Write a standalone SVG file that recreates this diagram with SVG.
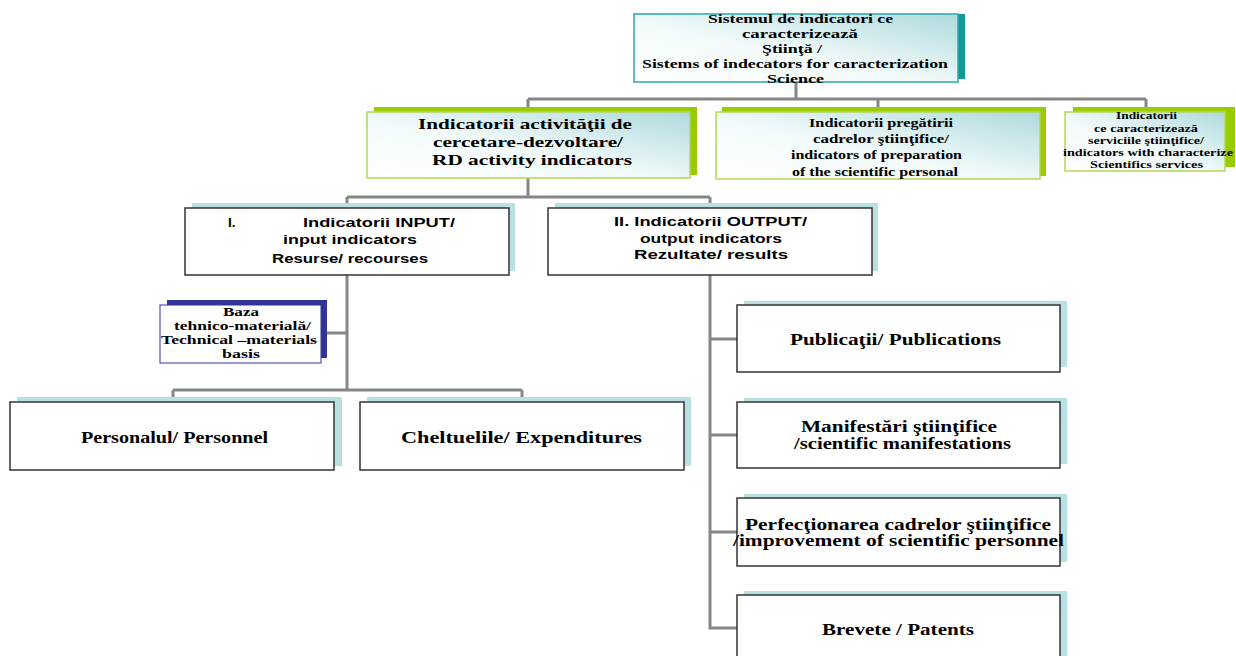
<svg xmlns="http://www.w3.org/2000/svg" width="1236" height="656" viewBox="0 0 1236 656">
<defs>
<linearGradient id="gr" x1="0" y1="1" x2="1" y2="0">
<stop offset="0" stop-color="#ffffff"/>
<stop offset="0.45" stop-color="#f2fafa"/>
<stop offset="1" stop-color="#aed9dd"/>
</linearGradient>
</defs>
<style>
.ser{font-family:"Liberation Serif","Times New Roman",serif;font-weight:bold;fill:#000}
.san{font-family:"Liberation Sans",Arial,sans-serif;font-weight:bold;fill:#000}
.con{fill:none;stroke:#868686;stroke-width:3}
.gsh{fill:#99cc00}
.gbx{fill:url(#gr);stroke:#b3d65a;stroke-width:1.5}
.bsh{fill:#b9e0e3}
.wbx{fill:#fff;stroke:#333;stroke-width:1.5}
</style>
<rect width="1236" height="656" fill="#fff"/>
<g id="connectors">
<path class="con" d="M796 82V99M528 99H1146M528 99V110M878 99V110M1146 99V110"/>
<path class="con" d="M528 178V197M347 197H710M347 197V208M710 197V208"/>
<path class="con" d="M347 275V390M321 333H347M173 390H522M173 390V402M522 390V402"/>
<path class="con" d="M710 275V628H737M710 339H737M710 435H737M710 532H737"/>
</g>
<g id="n-top">
<rect x="641" y="14" width="324" height="65" fill="#0e9994"/>
<rect x="634" y="14" width="324" height="68" fill="url(#gr)" stroke="#2aa9a9" stroke-width="1.5"/>
<g class="ser" font-size="12.5">
<text x="708" y="22.5" textLength="185" lengthAdjust="spacingAndGlyphs">Sistemul de indicatori ce</text>
<text x="742" y="37.5" textLength="116" lengthAdjust="spacingAndGlyphs">caracterizează</text>
<text x="762" y="52.5" textLength="60" lengthAdjust="spacingAndGlyphs">Ştiinţă /</text>
<text x="642" y="68" textLength="306" lengthAdjust="spacingAndGlyphs">Sistems of indecators for caracterization</text>
<text x="767" y="83" textLength="57" lengthAdjust="spacingAndGlyphs">Science</text>
</g>
</g>
<g id="n-rd">
<rect class="gsh" x="374" y="107" width="323" height="68"/>
<rect class="gbx" x="367" y="112" width="323" height="66"/>
<g class="ser" font-size="15">
<text x="418" y="128.5" textLength="214" lengthAdjust="spacingAndGlyphs">Indicatorii activităţii de</text>
<text x="433" y="147" textLength="190" lengthAdjust="spacingAndGlyphs">cercetare-dezvoltare/</text>
<text x="432" y="164.5" textLength="200" lengthAdjust="spacingAndGlyphs">RD activity indicators</text>
</g>
</g>
<g id="n-prep">
<rect class="gsh" x="722" y="107" width="324" height="69"/>
<rect class="gbx" x="716" y="112" width="324" height="67"/>
<g class="ser" font-size="12.5">
<text x="809" y="126.5" textLength="144" lengthAdjust="spacingAndGlyphs">Indicatorii pregătirii</text>
<text x="813" y="143" textLength="136" lengthAdjust="spacingAndGlyphs">cadrelor ştiinţifice/</text>
<text x="791" y="159" textLength="171" lengthAdjust="spacingAndGlyphs">indicators of preparation</text>
<text x="792" y="175.5" textLength="166" lengthAdjust="spacingAndGlyphs">of the scientific personal</text>
</g>
</g>
<g id="n-serv">
<rect class="gsh" x="1073" y="107" width="162" height="60"/>
<rect class="gbx" x="1065" y="112" width="160" height="59"/>
<g class="ser" font-size="10.5">
<text x="1116" y="119" textLength="61" lengthAdjust="spacingAndGlyphs">Indicatorii</text>
<text x="1094" y="131.5" textLength="104" lengthAdjust="spacingAndGlyphs">ce caracterizează</text>
<text x="1088" y="143.5" textLength="116" lengthAdjust="spacingAndGlyphs">serviciile ştiinţifice/</text>
<text x="1063" y="156" textLength="170" lengthAdjust="spacingAndGlyphs">indicators with characterize</text>
<text x="1090" y="168" textLength="113" lengthAdjust="spacingAndGlyphs">Scientifics services</text>
</g>
</g>
<g id="n-input">
<rect class="bsh" x="192" y="203" width="323" height="68"/>
<rect class="wbx" x="185" y="208" width="324" height="67"/>
<g class="san" font-size="13.5">
<text x="228" y="226.5">I.</text>
<text x="303" y="226.5" textLength="152" lengthAdjust="spacingAndGlyphs">Indicatorii  INPUT/</text>
<text x="283" y="244" textLength="134" lengthAdjust="spacingAndGlyphs">input indicators</text>
<text x="272" y="262.5" textLength="156" lengthAdjust="spacingAndGlyphs">Resurse/ recourses</text>
</g>
</g>
<g id="n-output">
<rect class="bsh" x="555" y="203" width="323" height="68"/>
<rect class="wbx" x="548" y="208" width="324" height="67"/>
<g class="san" font-size="13.5">
<text x="614" y="226" textLength="193" lengthAdjust="spacingAndGlyphs">II. Indicatorii OUTPUT/</text>
<text x="640" y="242.5" textLength="142" lengthAdjust="spacingAndGlyphs">output indicators</text>
<text x="634" y="259" textLength="154" lengthAdjust="spacingAndGlyphs">Rezultate/ results</text>
</g>
</g>
<g id="n-baza">
<rect x="167" y="300" width="160" height="58" fill="#333399"/>
<rect x="160" y="305" width="161" height="58" fill="#fff" stroke="#333399" stroke-width="1"/>
<g class="ser" font-size="12">
<text x="223" y="316" textLength="36" lengthAdjust="spacingAndGlyphs">Baza</text>
<text x="174" y="330" textLength="137" lengthAdjust="spacingAndGlyphs">tehnico-materială/</text>
<text x="161" y="344" textLength="156" lengthAdjust="spacingAndGlyphs">Technical –materials</text>
<text x="222" y="358" textLength="38" lengthAdjust="spacingAndGlyphs">basis</text>
</g>
</g>
<g id="n-pers">
<rect class="bsh" x="17" y="397" width="325" height="69"/>
<rect class="wbx" x="10" y="402" width="324" height="68"/>
<text class="ser" font-size="16" x="81" y="443" textLength="187" lengthAdjust="spacingAndGlyphs">Personalul/ Personnel</text>
</g>
<g id="n-chel">
<rect class="bsh" x="367" y="397" width="324" height="69"/>
<rect class="wbx" x="360" y="402" width="324" height="68"/>
<text class="ser" font-size="16" x="401" y="443" textLength="241" lengthAdjust="spacingAndGlyphs">Cheltuelile/ Expenditures</text>
</g>
<g id="n-pub">
<rect class="bsh" x="744" y="301" width="323" height="66"/>
<rect class="wbx" x="737" y="305" width="323" height="67"/>
<text class="ser" font-size="16" x="790" y="345" textLength="211" lengthAdjust="spacingAndGlyphs">Publicaţii/ Publications</text>
</g>
<g id="n-man">
<rect class="bsh" x="744" y="398" width="323" height="66"/>
<rect class="wbx" x="737" y="402" width="323" height="66"/>
<g class="ser" font-size="16">
<text x="801" y="431.5" textLength="196" lengthAdjust="spacingAndGlyphs">Manifestări ştiinţifice</text>
<text x="794" y="448.5" textLength="217" lengthAdjust="spacingAndGlyphs">/scientific manifestations</text>
</g>
</g>
<g id="n-perf">
<rect class="bsh" x="744" y="494" width="323" height="68"/>
<rect class="wbx" x="737" y="498" width="323" height="68"/>
<g class="ser" font-size="16">
<text x="745" y="530" textLength="306" lengthAdjust="spacingAndGlyphs">Perfecţionarea cadrelor ştiinţifice</text>
<text x="733" y="546" textLength="331" lengthAdjust="spacingAndGlyphs">/improvement of scientific personnel</text>
</g>
</g>
<g id="n-brev">
<rect class="bsh" x="744" y="591" width="323" height="75"/>
<rect class="wbx" x="737" y="595" width="323" height="70"/>
<text class="ser" font-size="16" x="822" y="635" textLength="152" lengthAdjust="spacingAndGlyphs">Brevete / Patents</text>
</g>
</svg>
